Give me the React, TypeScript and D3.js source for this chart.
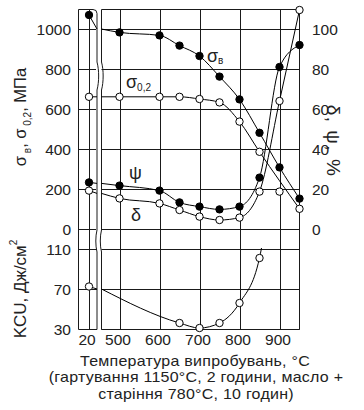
import React from "react";
import * as d3 from "d3";

// ---------- data ----------
const tempLeft = 20;
const tempsMain = [500, 600, 650, 700, 750, 800, 850, 900, 950];

const sigmaB20 = 1070;
const sigmaBEdge = 1000;
const sigmaB = [983, 968, 917, 865, 762, 648, 481, 308, 152];

const sigma02_20 = 661;
const sigma02Edge = 661;
const sigma02Temps = [500, 600, 650, 700, 750, 800, 850, 950];
const sigma02 = [661, 661, 661, 650, 633, 537, 386, 101];

const psi20 = 23.3;
const psiEdge = 22.8;
const psi = [21.7, 19.2, 13.3, 11.2, 9.8, 11.2, 25.7, 81, 92];

const delta20 = 19.2;
const deltaEdge = 17.8;
const delta = [15.3, 12.8, 9.5, 6.2, 4.5, 5.7, 18.7, 64, 109.5];
const deltaExtraTemps = [900];
const deltaExtra = [18.7];

const kcu20 = 72.5;
const kcuEdge = 70;
const kcuTemps = [650, 700, 750, 800, 850];
const kcu = [36, 31, 36, 56, 101];
const kcuTailTemp = 855;
const kcuTail = 111;

const mpaTicks = [0, 200, 400, 600, 800, 1000];
const pctTicks = [0, 20, 40, 60, 80, 100];
const kcuTicks = [30, 70, 110];
const xTicksMain = [500, 600, 700, 800, 900];

const captionLines = [
  "Температура випробувань, °С",
  "(гартування 1150°С, 2 години, масло +",
  "старіння 780°С, 10 годин)",
];

const FONT = "'Liberation Sans', Arial, Helvetica, sans-serif";
const INK = "#222";

export default function App() {
  const top = 9, mid = 229, bottom = 329;
  const leftX0 = 79, leftX1 = 97, rightX0 = 101.5, rightX1 = 299.5;

  const xL = d3.scaleLinear().domain([-5, 40]).range([leftX0, leftX1]);
  const xR = d3.scaleLinear().domain([455, 950]).range([rightX0, rightX1]);
  const yM = d3.scaleLinear().domain([0, 1100]).range([mid, top]);
  const yP = d3.scaleLinear().domain([0, 110]).range([mid, top]);
  const yK = d3.scaleLinear().domain([30, 130]).range([bottom, mid]);

  const c = (v: number) => Math.round(v) + 0.5;

  const mk = (xs: d3.ScaleLinear<number, number>, ys: d3.ScaleLinear<number, number>) =>
    d3
      .line<[number, number]>()
      .x((d) => xs(d[0]))
      .y((d) => ys(d[1]))
      .curve(d3.curveMonotoneX);

  const lineL = (ys: d3.ScaleLinear<number, number>) =>
    d3.line<[number, number]>().x((d) => xL(d[0])).y((d) => ys(d[1]));

  type Series = {
    v20: number;
    edge: number;
    temps: number[];
    vals: number[];
    y: d3.ScaleLinear<number, number>;
    filled: boolean;
    tail?: [number, number];
  };

  const series: Series[] = [
    { v20: sigmaB20, edge: sigmaBEdge, temps: tempsMain, vals: sigmaB, y: yM, filled: true },
    { v20: sigma02_20, edge: sigma02Edge, temps: sigma02Temps, vals: sigma02, y: yM, filled: false },
    { v20: psi20, edge: psiEdge, temps: tempsMain, vals: psi, y: yP, filled: true },
    { v20: delta20, edge: deltaEdge, temps: tempsMain, vals: delta, y: yP, filled: false },
    { v20: kcu20, edge: kcuEdge, temps: kcuTemps, vals: kcu, y: yK, filled: false, tail: [kcuTailTemp, kcuTail] },
  ];

  const breakPath = (x: number, yStart: number) =>
    `M${x},${yStart} L${x},62 C${x + 2.2},70 ${x + 2.2},82 ${x},90 L${x},230 C${x - 1.6},236 ${x - 1.6},246 ${x},252 L${x},${bottom + 0.5}`;

  const gridStroke = "#1a1a1a";
  const R = 3.7;

  return (
    <svg width={364} height={410} style={{ display: "block", position: "absolute", left: 0, top: 0 }} fontFamily={FONT}>
      <rect x={0} y={0} width={364} height={410} fill="#fff" />

      {/* horizontal grid */}
      {mpaTicks.map((t) => (
        <g key={"hm" + t}>
          <line x1={leftX0} x2={leftX1 - 1} y1={c(yM(t))} y2={c(yM(t))} stroke={gridStroke} strokeWidth={1} />
          <line x1={rightX0} x2={rightX1} y1={c(yM(t))} y2={c(yM(t))} stroke={gridStroke} strokeWidth={1} />
        </g>
      ))}
      {kcuTicks.map((t) => (
        <g key={"hk" + t}>
          <line x1={leftX0} x2={leftX1} y1={c(yK(t))} y2={c(yK(t))} stroke={gridStroke} strokeWidth={1} />
          <line x1={rightX0} x2={rightX1} y1={c(yK(t))} y2={c(yK(t))} stroke={gridStroke} strokeWidth={1} />
        </g>
      ))}
      {/* vertical grid */}
      <line x1={c(xL(tempLeft))} x2={c(xL(tempLeft))} y1={top} y2={bottom} stroke={gridStroke} strokeWidth={1} />
      {xTicksMain.map((t) => (
        <line key={"v" + t} x1={c(xR(t))} x2={c(xR(t))} y1={top} y2={bottom} stroke={gridStroke} strokeWidth={1} />
      ))}

      {/* frames */}
      <path
        d={`M${leftX0 - 0.5},${bottom + 0.5} L${leftX0 - 0.5},${top + 0.5} L${leftX1 - 4},${top + 0.5} Q${leftX1},${top + 0.5} ${leftX1},${top + 4.5}`}
        fill="none"
        stroke={gridStroke}
        strokeWidth={1}
      />
      <line x1={leftX0 - 0.5} x2={leftX1} y1={bottom + 0.5} y2={bottom + 0.5} stroke={gridStroke} strokeWidth={1} />
      <path d={breakPath(leftX1, top + 4.5)} fill="none" stroke={gridStroke} strokeWidth={1} />
      <path d={breakPath(rightX0, top + 0.5)} fill="none" stroke={gridStroke} strokeWidth={1} />
      <path
        d={`M${rightX0},${top + 0.5} L${rightX1},${top + 0.5} L${rightX1},${bottom + 0.5} L${rightX0},${bottom + 0.5}`}
        fill="none"
        stroke={gridStroke}
        strokeWidth={1}
      />

      {/* series lines */}
      {series.map((s, i) => {
        const right: [number, number][] = [[455, s.edge] as [number, number]].concat(
          s.temps.map((t, j) => [t, s.vals[j]] as [number, number])
        );
        if (s.tail) right.push(s.tail);
        const left: [number, number][] = [
          [tempLeft, s.v20],
          [40, s.edge],
        ];
        return (
          <g key={"s" + i} fill="none" stroke="#000" strokeWidth={1}>
            <path d={mk(xR, s.y)(right) || ""} />
            <path d={lineL(s.y)(left) || ""} />
          </g>
        );
      })}

      {/* markers */}
      {series.map((s, i) => (
        <g key={"m" + i}>
          <circle cx={xL(tempLeft)} cy={s.y(s.v20)} r={R} fill={s.filled ? "#000" : "#fff"} stroke="#000" strokeWidth={1} />
          {s.temps.map((t, j) => (
            <circle
              key={t}
              cx={xR(t)}
              cy={s.y(s.vals[j])}
              r={R}
              fill={s.filled ? "#000" : "#fff"}
              stroke="#000"
              strokeWidth={1}
            />
          ))}
        </g>
      ))}
      {deltaExtraTemps.map((t, j) => (
        <circle key={"dx" + t} cx={xR(t)} cy={yP(deltaExtra[j])} r={R} fill="#fff" stroke="#000" strokeWidth={1} />
      ))}

      {/* tick labels */}
      <g fill={INK} fontSize={15.5}>
        {mpaTicks.map((t) => (
          <text key={"lm" + t} x={71} y={yM(t)} dy="0.36em" textAnchor="end">
            {t}
          </text>
        ))}
        {kcuTicks.map((t) => (
          <text key={"lk" + t} x={71} y={yK(t)} dy="0.36em" textAnchor="end">
            {t}
          </text>
        ))}
        {pctTicks.map((t) => (
          <text key={"rp" + t} x={312} y={yP(t)} dy="0.36em" textAnchor="start">
            {t}
          </text>
        ))}
        <text x={xL(tempLeft) - 2} y={345} textAnchor="middle">
          {tempLeft}
        </text>
        {xTicksMain.map((t) => (
          <text key={"bx" + t} x={xR(t) - 1.5} y={345} textAnchor="middle">
            {t}
          </text>
        ))}
      </g>

      {/* series labels */}
      <g fill={INK}>
        <text x={207} y={62} fontSize={18}>
          σ<tspan fontSize={10} dy={2}>в</tspan>
        </text>
        <text x={126} y={88} fontSize={18}>
          σ<tspan fontSize={10} dy={3}>0,2</tspan>
        </text>
        <text x={129} y={179} fontSize={18}>ψ</text>
        <text x={131} y={221} fontSize={18}>δ</text>
      </g>

      {/* axis titles */}
      <g fill={INK}>
        <text transform="translate(25.5,117) rotate(-90)" textAnchor="middle" fontSize={16.5}>
          σ<tspan fontSize={10} dy={5}> в</tspan>
          <tspan dy={-5}>, σ</tspan>
          <tspan fontSize={10} dy={5}> 0,2</tspan>
          <tspan dy={-5}>, МПа</tspan>
        </text>
        <text transform="translate(25.5,289) rotate(-90)" textAnchor="middle" fontSize={17}>
          KCU, Дж/см<tspan fontSize={10} dy={-9}>2</tspan>
        </text>
        <text transform="translate(327,141) rotate(90)" textAnchor="middle" fontSize={19} letterSpacing={1.5}>
          δ, ψ, %
        </text>
      </g>

      {/* bottom caption */}
      <g fill={INK} fontSize={16} textAnchor="middle" letterSpacing={0.25}>
        {captionLines.map((s, i) => (
          <g key={"cap" + i} transform={`translate(${i === 0 ? 195 : 196},${366 + i * 16.4}) scale(1,0.92)`}>
            <text x={0} y={0}>
              {s}
            </text>
          </g>
        ))}
      </g>
    </svg>
  );
}
